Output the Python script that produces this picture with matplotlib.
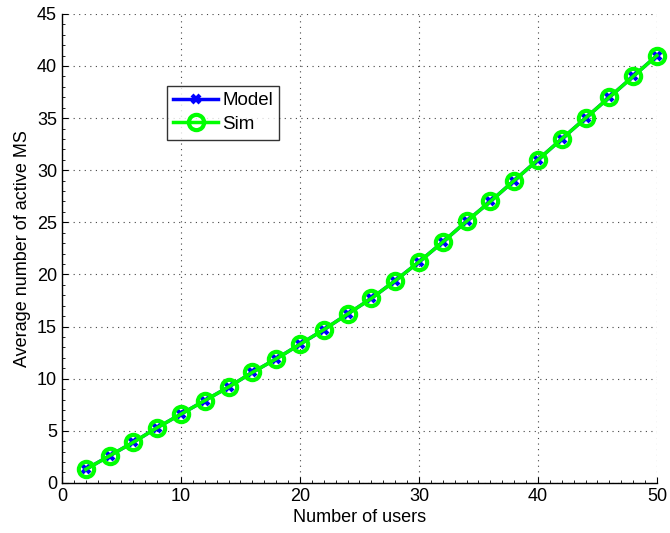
import matplotlib
matplotlib.use("Agg")
import matplotlib.pyplot as plt
from matplotlib.ticker import MultipleLocator

users = [2, 4, 6, 8, 10, 12, 14, 16, 18, 20, 22, 24, 26,
         28, 30, 32, 34, 36, 38, 40, 42, 44, 46, 48, 50]
model = [1.3, 2.6, 3.9, 5.3, 6.6, 7.9, 9.2, 10.6, 11.9, 13.3, 14.7, 16.2, 17.7,
         19.4, 21.2, 23.1, 25.1, 27.0, 29.0, 31.0, 33.0, 35.0, 37.0, 39.0, 41.0]
sim = [1.3, 2.6, 3.9, 5.3, 6.6, 7.9, 9.2, 10.6, 11.9, 13.3, 14.7, 16.2, 17.7,
       19.4, 21.2, 23.1, 25.1, 27.0, 29.0, 31.0, 33.0, 35.0, 37.0, 39.0, 41.0]

plt.rcParams["font.family"] = ["Liberation Sans", "DejaVu Sans"]

fig = plt.figure(figsize=(6.7, 5.33), dpi=100)
ax = fig.add_axes([0.0925, 0.094, 0.888, 0.88])

ax.plot(users, model, color="blue", lw=2.5, marker="x", ms=6, mew=3,
        label="Model", clip_on=False, zorder=3)
ax.plot(users, sim, color="#00ff00", lw=2.5, marker="o", ms=11, mew=3,
        mfc="none", label="Sim", clip_on=False, zorder=4)

ax.set_xlim(0, 50)
ax.set_ylim(0, 45)
ax.set_xticks(range(0, 51, 10))
ax.set_yticks(range(0, 46, 5))
ax.xaxis.set_minor_locator(MultipleLocator(1))
ax.yaxis.set_minor_locator(MultipleLocator(1))
ax.grid(True, which="major", ls=(0, (1, 4)), color="#444444", lw=0.8)
ax.tick_params(which="major", direction="in", length=4, labelsize=13)
ax.tick_params(which="minor", direction="in", length=2, width=0.6)
ax.spines["top"].set_visible(False)
ax.spines["right"].set_visible(False)
ax.spines["left"].set_linewidth(1)
ax.spines["bottom"].set_linewidth(1)

ax.set_xlabel("Number of users", fontsize=13, labelpad=3)
ax.set_ylabel("Average number of active MS", fontsize=13, labelpad=4)

leg = ax.legend(loc="upper left", bbox_to_anchor=(0.176, 0.847), fancybox=False,
                edgecolor="black", fontsize=13.5, handlelength=2.4,
                borderpad=0.35, labelspacing=0.35, handletextpad=0.2,
                borderaxespad=0)
leg.get_frame().set_linewidth(1)

fig.savefig("out.png")
